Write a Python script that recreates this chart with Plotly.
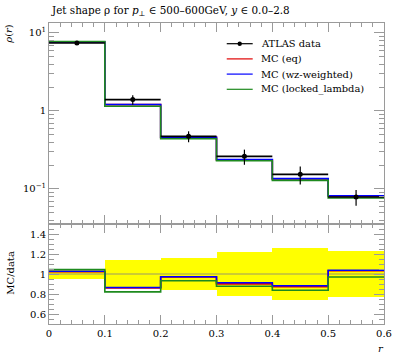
import plotly.graph_objects as go

# ---- data ----
bin_edges = [0.0, 0.1, 0.2, 0.3, 0.4, 0.5, 0.6]
bin_centers = [0.05, 0.15, 0.25, 0.35, 0.45, 0.55]
data_vals = [7.45, 1.40, 0.473, 0.262, 0.154, 0.0789]
data_rel_err = [0.045, 0.14, 0.16, 0.22, 0.26, 0.23]
mc_eq = [7.62, 1.205, 0.459, 0.236, 0.1345, 0.0815]
mc_wz = [7.65, 1.21, 0.460, 0.239, 0.1358, 0.0818]
mc_locked = [7.78, 1.15, 0.441, 0.230, 0.129, 0.0765]

series = [
    ("MC (eq)", mc_eq, "#e00000"),
    ("MC (wz-weighted)", mc_wz, "#0000ff"),
    ("MC (locked_lambda)", mc_locked, "#1e8a1e"),
]

FONT = "DejaVu Serif"
AX = "#9a9a9a"

fig = go.Figure()

def step(vals):
    return list(vals) + [vals[-1]]

# main panel MC lines
for name, vals, col in series:
    fig.add_trace(go.Scatter(x=bin_edges, y=step(vals), mode="lines", line=dict(color=col, width=1.6, shape="hv"),
                             name=name, showlegend=False, xaxis="x", yaxis="y"))

# data
data_err = [v * e for v, e in zip(data_vals, data_rel_err)]
fig.add_trace(go.Scatter(x=bin_centers, y=data_vals, mode="markers", name="ATLAS data",
                         marker=dict(color="black", size=5),
                         error_x=dict(type="constant", value=0.05, width=0, color="black", thickness=1.6),
                         error_y=dict(type="data", array=data_err, width=0, color="black", thickness=1.2),
                         showlegend=False, xaxis="x", yaxis="y"))

# ratio band
fig.add_trace(go.Bar(x=bin_centers, y=[2 * e for e in data_rel_err], base=[1 - e for e in data_rel_err],
                     width=0.1, marker=dict(color="#ffff00", line=dict(width=0)), showlegend=False,
                     xaxis="x2", yaxis="y2"))
fig.add_trace(go.Scatter(x=[bin_edges[0], bin_edges[-1]], y=[1, 1], mode="lines",
                         line=dict(color="#999966", width=1), showlegend=False, xaxis="x2", yaxis="y2"))
for name, vals, col in series:
    ratio = [m / d for m, d in zip(vals, data_vals)]
    fig.add_trace(go.Scatter(x=bin_edges, y=step(ratio), mode="lines", line=dict(color=col, width=1.6, shape="hv"),
                             showlegend=False, xaxis="x2", yaxis="y2"))

W, H = 397, 358
ml, mr, mt, mb = 49, 12.5, 23.3, 33.7
PW, PH = W - ml - mr, H - mt - mb
split = 100 / 301.0

def px(xp):
    return (xp - ml) / PW

def py(yp):
    return (H - mb - yp) / PH

x_minor = [round(0.02 * i, 2) for i in range(31)]
log_minor = [k * 10 ** e for e in (-2, -1, 0, 1) for k in range(2, 10)]

common_x = dict(range=[0, 0.6], showgrid=False, zeroline=False, showline=True, linecolor=AX, linewidth=1,
                mirror="ticks", ticks="inside", ticklen=9, tickcolor=AX, tickwidth=1, automargin=False,
                tickvals=[0, 0.1, 0.2, 0.3, 0.4, 0.5, 0.6],
                minor=dict(tickvals=x_minor, ticks="inside", ticklen=4, tickcolor=AX, showgrid=False))

fig.update_layout(
    width=W, height=H, margin=dict(l=ml, r=mr, t=mt, b=mb, autoexpand=False),
    paper_bgcolor="white", plot_bgcolor="white",
    font=dict(family=FONT, size=10, color="black"),
    barmode="overlay", bargap=0, showlegend=False,
    xaxis=dict(common_x, domain=[0, 1], anchor="y", showticklabels=False),
    yaxis=dict(type="log", range=[-1.449, 1.128], domain=[split, 1], anchor="x", automargin=False,
               showgrid=False, zeroline=False, showline=True, linecolor=AX, linewidth=1, mirror="ticks",
               ticks="inside", ticklen=10, tickcolor=AX, tickvals=[0.1, 1, 10],
               ticktext=["10<sup>−1</sup>", "1", "10<sup>1</sup>"],
               minor=dict(tickvals=log_minor, ticks="inside", ticklen=5, tickcolor=AX, showgrid=False)),
    xaxis2=dict(common_x, domain=[0, 1], anchor="y2", ticktext=["0", "0.1", "0.2", "0.3", "0.4", "0.5", "0.6"]),
    yaxis2=dict(range=[0.5, 1.5], domain=[0, split], anchor="x2", automargin=False,
                showgrid=False, zeroline=False, showline=True, linecolor=AX, linewidth=1, mirror="ticks",
                ticks="inside", ticklen=10, tickcolor=AX, tickvals=[0.6, 0.8, 1.0, 1.2, 1.4],
                ticktext=["0.6", "0.8", "1", "1.2", "1.4"],
                minor=dict(dtick=0.05, ticks="inside", ticklen=5, tickcolor=AX, showgrid=False)),
)

# manual legend (position in pixels)
leg_names = ["ATLAS data"] + [s[0] for s in series]
leg_cols = ["black"] + [s[2] for s in series]
leg_y = [44, 59.2, 74.4, 89.6]
for name, col, yy in zip(leg_names, leg_cols, leg_y):
    fig.add_shape(type="line", xref="paper", yref="paper", x0=px(227), x1=px(253), y0=py(yy), y1=py(yy),
                  line=dict(color=col, width=1.2))
    fig.add_annotation(text=name, xref="paper", yref="paper", x=px(259), y=py(yy), xanchor="left",
                       yanchor="middle", showarrow=False, font=dict(family=FONT, size=9.9))
fig.add_shape(type="circle", xref="paper", yref="paper", x0=px(237.8), x1=px(242.2), y0=py(46.2), y1=py(41.8),
              fillcolor="black", line=dict(color="black", width=0))

fig.add_annotation(text="Jet shape ρ for <i>p</i><sub>⊥</sub> ∈ 500–600GeV, <i>y</i> ∈ 0.0–2.8",
                   xref="paper", yref="paper", x=0, y=1, yshift=3, xanchor="left", yanchor="bottom",
                   showarrow=False, font=dict(family=FONT, size=10.4))
fig.add_annotation(text="<i>ρ</i>(<i>r</i>)", xref="paper", yref="paper", x=px(9), y=py(22), xanchor="center",
                   yanchor="top", textangle=-90, showarrow=False, font=dict(family=FONT, size=10))
fig.add_annotation(text="MC/data", xref="paper", yref="paper", x=px(11), y=py(273), xanchor="center",
                   yanchor="middle", textangle=-90, showarrow=False, font=dict(family=FONT, size=10))
fig.add_annotation(text="<i>r</i>", xref="paper", yref="paper", x=px(381), y=py(349), xanchor="center",
                   yanchor="middle", showarrow=False, font=dict(family=FONT, size=10))

fig.write_html("out.html", config={"displayModeBar": False},
               post_script="document.body.style.margin='0';document.body.style.padding='0';")
